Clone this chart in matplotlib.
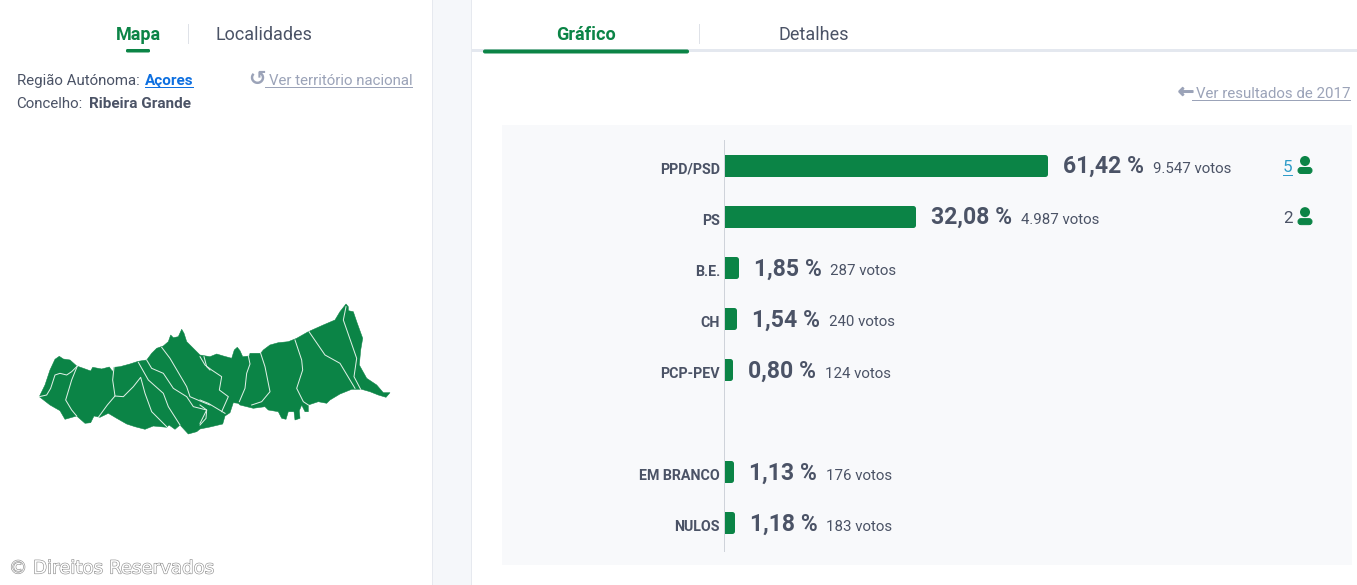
import numpy as np
import matplotlib
matplotlib.use("Agg")
import matplotlib.pyplot as plt
from matplotlib.patches import Polygon, Rectangle, Circle, FancyBboxPatch
from matplotlib.transforms import ScaledTranslation
import matplotlib.patheffects as pe

# Resultados do concelho
partidos = ["PPD/PSD", "PS", "B.E.", "CH", "PCP-PEV", "EM BRANCO", "NULOS"]
percentagens = [61.42, 32.08, 1.85, 1.54, 0.80, 1.13, 1.18]
votos = ["9.547", "4.987", "287", "240", "124", "176", "183"]
mandatos = [5, 2, None, None, None, None, None]
linhas = [0, 1, 2, 3, 4, 6, 7]

# Escala das barras (nao e linear no original): percentagem -> pixels
escala_pct = [0, 0.80, 1.85, 32.08, 61.42, 100]
escala_px = [0, 5.5, 11.5, 188.5, 320.5, 615]

# Contorno do mapa, em pixels
contorno = [(39.3,396.7),(45,385),(50,370),(55,359.3),(59.3,356.3),(63.3,359),(70,360),(76.7,366),
    (83.3,368.3),(90.7,371),(92.7,367.3),(101.7,369),(109.3,367),(112.7,371.7),(114,367.3),(120,366.7),
    (130,364),(138.3,361.3),(146.7,360),(151.7,353.3),(156.7,348.3),(163.3,346),(168.3,341.7),(170.7,335),
    (173.3,337.7),(178.3,336.7),(181.7,329.3),(184,333.3),(186.7,341.7),(193.3,348.3),(200,355),(210,356.7),
    (216.7,354),(223.3,356),(231.7,358.3),(234.3,350),(237.3,347.3),(240,350.7),(242.7,356.7),(249.3,356),
    (250,353.3),(260.7,353.3),(263.3,350),(270,345),(278.3,342.7),(288.3,341.7),(296.7,338.3),(308.3,331.7),
    (323.3,325),(335,320),(340,311.7),(346,304),(348.3,306.7),(348.3,310.7),(353.3,311.7),(356.7,321.7),
    (362.7,338.3),(360.7,350),(359.3,365),(366.7,378.3),(376.7,385),(383.3,392.7),(390,392.7),(386,397.3),
    (378.3,395),(370,391.7),(361.7,389.3),(351.7,389.3),(340,394),(330,400),(326.7,403.3),(318.3,401.7),
    (308.3,405),(308.3,411.7),(305,411.7),(301.7,405),(299.3,410.7),(300,418.3),(295,420),(294,411.7),
    (288.3,411.7),(286,419.3),(281.7,418.3),(278.3,411.7),(268.3,410),(265,406.7),(253.3,408.3),(240,405),
    (238.3,403.3),(233.3,402.7),(230,412.7),(225,416),(222.7,424),(210,427),(200,429),(196.7,431.7),
    (188.3,434),(180,425),(175,429.3),(169,425),(166.7,427.3),(153.3,426),(145,429.3),(135,426.7),
    (126.7,424),(116.7,418.3),(108.3,413.3),(100,417.3),(94,416),(90.7,422.7),(85,423.3),(79.3,418.3),
    (76.7,416),(65,419.3),(60,410.7),(50,405)]

limites_oeste = [
    [(58,320),(80,315),(92,295),(105,255),(120,250),(140,255),(155,245),(172,228)],
    [(172,228),(155,270),(137,330),(155,360),(170,378)],
    [(282,232),(278,270),(285,318),(262,345),(235,382)],
    [(285,318),(310,320),(340,290),(362,262),(375,310),(395,365),(440,410)],
    [(355,217),(385,270),(430,310),(445,350),(480,405)],
    [(380,210),(395,235),(430,250),(460,295),(500,320),(520,350),(560,360),(540,400)],
    [(425,172),(450,205),(500,290),(510,320),(545,335),(570,345)],
    [(552,200),(560,230),(570,240)],
]
limites_leste = [
    [(0,200),(15,225),(35,240),(65,260),(58,300),(85,320),(65,365)],
    [(0,330),(25,340),(50,355),(75,370)],
    [(0,345),(20,360),(18,385),(0,405)],
    [(145,198),(150,222),(140,250),(135,295),(118,335)],
    [(182,190),(195,230),(210,305),(185,335),(155,345)],
    [(285,150),(305,210),(308,240),(290,295),(310,335),(325,345)],
    [(327,125),(375,195),(420,220),(465,295)],
    [(438,50),(430,90),(470,205),(462,260),(482,298)],
]

verde = "#0b8446"
cinza = "#4b5366"
claro = "#9ba3b8"

plt.rcParams["font.family"] = ["Roboto", "DejaVu Sans"]

W, H = 1357, 585
fig = plt.figure(figsize=((W + 0.01) / 72, (H + 0.01) / 72), dpi=72, facecolor="white")

# Eixo de fundo em pixels, para a parte da pagina
ui = fig.add_axes([0, 0, 1, 1])
ui.set_xlim(0, W)
ui.set_ylim(H, 0)
ui.axis("off")

ui.add_patch(Rectangle((432, 0), 39.5, H, fc="#f5f7fa", ec="none"))
ui.plot([432, 432], [0, H], color="#e6e9ef", lw=1)
ui.plot([471, 471], [0, H], color="#e6e9ef", lw=1)
ui.add_patch(Rectangle((471.5, 49), W - 471.5, 3, fc="#e4e8ef", ec="none"))
ui.add_patch(Rectangle((502, 125), 850, 440, fc="#f8f9fb", ec="none"))

# Separadores
ui.text(138, 35, "Mapa", fontsize=18, fontweight="bold", color=verde, ha="center", va="center")
ui.text(264, 35, "Localidades", fontsize=18, color=cinza, ha="center", va="center")
ui.plot([187.5, 187.5], [24, 43], color="#dfe2e8", lw=1)
ui.add_patch(FancyBboxPatch((126.5, 49.5), 23, 2.5, boxstyle="round,pad=0,rounding_size=1", fc=verde, ec=verde, lw=1))
ui.text(586, 35, "Gráfico", fontsize=18, fontweight="bold", color=verde, ha="center", va="center")
ui.text(814, 35, "Detalhes", fontsize=18, color=cinza, ha="center", va="center")
ui.plot([699, 699], [24, 43], color="#dfe2e8", lw=1)
ui.add_patch(FancyBboxPatch((483.5, 50), 205, 3, boxstyle="round,pad=0,rounding_size=1.5", fc=verde, ec=verde, lw=1))

# Cabecalho do mapa
ui.text(17, 85, "Região Autónoma:", fontsize=15, color=cinza, va="baseline")
ui.text(145, 85, "Açores", fontsize=15.3, fontweight="bold", color="#0d6fe0", va="baseline")
ui.plot([145, 193], [87, 87], color="#0d6fe0", lw=1)
ui.text(16.5, 108, "Concelho:", fontsize=15, color=cinza, va="baseline")
ui.text(89, 108, "Ribeira Grande", fontsize=15.2, fontweight="bold", color=cinza, va="baseline")
ui.text(257.5, 79, "\u21ba", fontsize=21, fontweight="bold", family="DejaVu Sans", color=claro, ha="center", va="center")
ui.text(268.5, 85, "Ver território nacional", fontsize=15, color=claro, va="baseline")
ui.plot([265, 412], [87, 87], color=claro, lw=1)

# Ligacao a 2017
seta = ui.text(1186, 92, "\u2190", fontsize=19, family="DejaVu Sans", color=claro, ha="center", va="center")
seta.set_path_effects([pe.withStroke(linewidth=1.4, foreground=claro)])
ui.text(1195.5, 98, "Ver resultados de 2017", fontsize=15, color=claro, va="baseline")
ui.plot([1192, 1350], [100, 100], color=claro, lw=1)

# Mapa
ui.add_patch(Polygon(contorno, closed=True, fc=verde, ec=verde, lw=0.5))
for linha in limites_oeste:
    xy = np.array(linha) / 3 + [20, 290]
    ui.plot(xy[:, 0], xy[:, 1], color="#dff0e6", lw=1, solid_joinstyle="round")
for linha in limites_leste:
    xy = np.array(linha) / 3 + [200, 290]
    ui.plot(xy[:, 0], xy[:, 1], color="#dff0e6", lw=1, solid_joinstyle="round")

# Direitos reservados, letra branca com contorno cinzento
copyr = ui.text(9, 568.5, "© Direitos Reservados", fontsize=18.2, color="white", va="center",
                family="DejaVu Sans")
copyr.set_path_effects([pe.withStroke(linewidth=1.2, foreground="#8f8f8f")])

# Grafico de barras
ax = fig.add_axes([724 / W, 1 - 551 / H, 615 / W, 411 / H])
ax.patch.set_alpha(0)
ax.set_xscale("function", functions=(lambda v: np.interp(v, escala_pct, escala_px),
                                     lambda p: np.interp(p, escala_px, escala_pct)))
ax.set_xlim(0, 100)
ax.set_ylim(7.55, -0.49)

barras = ax.barh(linhas, percentagens, height=17 / 51.14, color=verde, edgecolor=verde, linewidth=5)
for b in barras:
    b.set_joinstyle("round")

ax.set_yticks(linhas)
ax.set_yticklabels(partidos, fontsize=14.3, fontweight="bold", color=cinza)
ax.tick_params(axis="y", length=0, pad=4)
ax.set_xticks([])
ax.minorticks_off()
for lado in ["top", "right", "bottom"]:
    ax.spines[lado].set_visible(False)
ax.spines["left"].set_color("#cfd3da")
ax.spines["left"].set_linewidth(1)

# rotulos dos partidos um pouco abaixo do centro da barra
for lab in ax.get_yticklabels():
    lab.set_transform(lab.get_transform() + ScaledTranslation(0, -3 / 72, fig.dpi_scale_trans))

for i in range(len(partidos)):
    rotulo = f"{percentagens[i]:.2f}".replace(".", ",") + " %"
    t = ax.annotate(rotulo, (percentagens[i], linhas[i]), xytext=(18, -8), textcoords="offset points",
                    fontsize=23, fontweight="bold", color=cinza, va="baseline")
    ax.annotate(votos[i] + " votos", xy=(1, linhas[i]), xycoords=(t, "data"), xytext=(9, -8),
                textcoords="offset points", fontsize=15, color=cinza, va="baseline")

# Mandatos com o icone de pessoa
for i in range(len(partidos)):
    if mandatos[i] is None:
        continue
    y = 166 + linhas[i] * 51.14
    cor = "#2f9cc9" if mandatos[i] == 5 else cinza
    ui.text(1283, y + 6, str(mandatos[i]), fontsize=17, color=cor, va="baseline")
    if mandatos[i] == 5:
        ui.plot([1283, 1292], [y + 9, y + 9], color=cor, lw=1)
    ui.add_patch(Circle((1305, y - 5), 5, fc=verde, ec="none"))
    ui.add_patch(FancyBboxPatch((1298, y + 1.5), 14, 6, boxstyle="round,pad=0,rounding_size=3",
                                fc=verde, ec=verde, lw=1))

fig.savefig("out.png", dpi=72)
